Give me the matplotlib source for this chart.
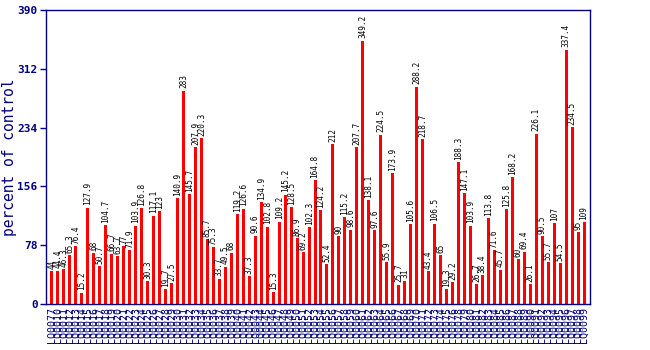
import matplotlib
matplotlib.use("Agg")
import matplotlib.pyplot as plt

labels = ["LQ0077", "LQ0010", "LQ0011", "LQ0012", "LQ0013", "LQ0014", "LQ0015", "LQ0016", "LQ0017", "LQ0018",
          "LQ0019", "LQ0020", "LQ0021", "LQ0022", "LQ0023", "LQ0024", "LQ0025", "LQ0026", "LQ0027", "LQ0028",
          "LQ0029", "LQ0030", "LQ0031", "LQ0032", "LQ0033", "LQ0034", "LQ0035", "LQ0036", "LQ0037", "LQ0038",
          "LQ0039", "LQ0040", "LQ0041", "LQ0042", "LQ0043", "LQ0044", "LQ0045", "LQ0046", "LQ0047", "LQ0048",
          "LQ0049", "LQ0050", "LQ0051", "LQ0052", "LQ0053", "LQ0054", "LQ0055", "LQ0056", "LQ0057", "LQ0058",
          "LQ0059", "LQ0060", "LQ0061", "LQ0062", "LQ0063", "LQ0064", "LQ0065", "LQ0066", "LQ0067", "LQ0068",
          "LQ0069", "LQ0070", "LQ0071", "LQ0072", "LQ0073", "LQ0074", "LQ0075", "LQ0076", "LQ0078", "LQ0079",
          "LQ0080", "LQ0081", "LQ0082", "LQ0083", "LQ0084", "LQ0085", "LQ0086", "LQ0087", "LQ0088", "LQ0089",
          "LQ0090", "LQ0091", "LQ0092", "LQ0093", "LQ0094", "LQ0095", "LQ0096", "LQ0097", "LQ0098", "LQ0099"]

values = [44, 44.4, 46.3, 65.3, 76.4, 15.2, 127.9, 68, 50.7, 104.7,
          66.7, 63.7, 77, 71.9, 103.9, 126.8, 30.3, 117.1, 123, 19.7,
          27.5, 140.9, 283, 145.7, 207.9, 220.3, 85.7, 75.3, 33.7, 49.5,
          68, 119.2, 126.6, 37.3, 90.6, 134.9, 102.8, 15.3, 109.2, 145.2,
          128.5, 86.9, 69.2, 102.3, 164.8, 124.2, 52.4, 212, 90, 115.2,
          98.6, 207.7, 349.2, 138.1, 97.6, 224.5, 55.9, 173.9, 25.7, 31,
          105.6, 288.2, 218.7, 43.4, 106.5, 65, 19.3, 29.2, 188.3, 147.1,
          103.9, 26.7, 38.4, 113.8, 71.6, 45.7, 125.8, 168.2, 60, 69.4,
          26.1, 226.1, 90.5, 55.7, 107, 54.5, 337.4, 234.5, 95, 109]

yticks = [0, 78, 156, 234, 312, 390]

navy = "#000080"
mono = "DejaVu Sans Mono"

fig = plt.figure(figsize=(6.5, 3.5), dpi=100)
ax = fig.add_axes([46 / 650, 46 / 350, 544 / 650, 294 / 350])

x = list(range(len(values)))
ax.bar(x, values, width=0.5, color="#ff0000", zorder=2)

for xi, v in zip(x, values):
    ax.text(xi, v + 3, f"{v:g}", rotation=90, ha="center", va="bottom",
            fontsize=5.6, family=mono, color="black")

ax.set_xlim(-1, len(values))
ax.set_ylim(0, 390)
ax.set_yticks(yticks)
ax.set_yticklabels([str(t) for t in yticks], family=mono, fontweight="bold",
                   fontsize=8, color=navy)
ax.set_xticks(x)
ax.set_xticklabels(labels, rotation=90, family=mono, fontsize=7.2, color=navy)
ax.tick_params(axis="x", length=0, pad=2)
ax.tick_params(axis="y", length=4, color=navy, width=1, pad=2)

for s in ax.spines.values():
    s.set_color(navy)
    s.set_linewidth(1)

fig.text(10 / 650, 1 - 157 / 350, "percent of control", rotation=90, ha="center", va="center",
         family=mono, fontsize=10.5, color=navy)

fig.savefig("out.png", dpi=100)
